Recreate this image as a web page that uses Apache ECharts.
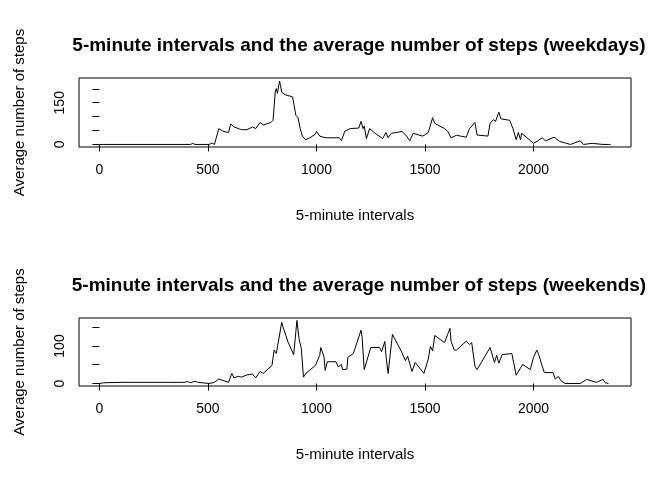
<!DOCTYPE html>
<html><head><meta charset="utf-8">
<script src="https://cdn.jsdelivr.net/npm/echarts@6/dist/echarts.min.js"></script>
<style>body{margin:0;background:#fff}#c{width:672px;height:480px}</style></head>
<body><div id="c"></div>
<script>
const wdX=[0,420,430,440,505,520,530,550,570,595, 605,620,640,655,680,705,720,740,755,790, 800,810,815,820,830,840,855,890,895,905, 915,925,935,940,950,970,995,1000,1015,1040, 1105,1115,1130,1155,1195,1205,1215,1220,1230,1245, 1270,1305,1320,1330,1345,1370,1395,1415,1430,1445, 1490,1515,1535,1545,1590,1605,1620,1645,1690,1705, 1720,1730,1740,1790,1800,1815,1825,1840,1850,1890, 1905,1920,1930,1940,1945,1970,2000,2020,2040,2055, 2095,2120,2170,2215,2230,2270,2320,2345,2355];
const wdY=[0,0,4,0,0,5,0,57,47,43, 74,63,57,53,53,63,57,79,70,79, 87,188,201,184,228,188,179,171,149,105, 96,57,30,37,17,24,37,47,30,24, 24,13,47,57,59,83,57,66,21,57, 40,21,43,24,40,43,47,30,13,40, 30,43,96,76,57,47,24,33,26,57, 70,79,34,30,76,89,83,116,92,87, 57,17,43,17,40,24,4,13,24,13, 26,11,0,13,0,4,0,0,0];
const weX=[0,20,105,320,390,405,420,440,455,505, 530,550,570,595,610,620,640,655,680,705, 720,740,755,795,805,815,840,845,870,895, 910,920,930,940,955,995,1015,1020,1035,1040, 1050,1090,1100,1115,1120,1140,1145,1170,1205,1210, 1220,1250,1290,1300,1315,1320,1330,1350,1390,1410, 1420,1440,1455,1495,1515,1525,1535,1545,1590,1615, 1620,1635,1645,1690,1705,1715,1730,1740,1800,1820, 1830,1840,1855,1900,1920,1950,1985,2000,2015,2025, 2040,2050,2090,2100,2115,2125,2145,2215,2245,2290, 2320,2330,2345];
const weY=[0,2,3,3,3,5,2,6,3,0, 3,12,8,3,27,15,19,17,23,25, 15,32,27,48,89,80,163,152,109,77, 168,118,94,17,29,48,75,96,70,35, 58,58,44,51,37,38,70,80,142,125, 37,96,96,85,112,75,27,131,87,61, 73,32,56,27,65,99,87,128,109,147, 113,89,89,113,104,109,46,37,96,56, 75,54,77,80,22,51,37,70,89,75, 46,29,29,12,19,8,0,0,11,3, 11,2,0];
const xTicks=[0,500,1000,1500,2000];
const txt={fontFamily:'Liberation Sans, Arial, sans-serif',color:'#000'};
function pairs(x,y){return x.map((v,i)=>[v,y[i]]);}
const grids=[{left:79,right:41,top:78,height:69},{left:79,right:41,top:318,height:68}];
function xa(i){return {type:'value',gridIndex:i,min:-94,max:2449,offset:6,
 axisLine:{show:false},splitLine:{show:false},
 axisTick:{show:true,length:7,customValues:xTicks,lineStyle:{color:'#000'}},
 axisLabel:{customValues:xTicks,formatter:v=>String(v),fontSize:14,margin:10,...txt},
 name:'5-minute intervals',nameLocation:'middle',nameGap:55,nameTextStyle:{fontSize:15,...txt}};}
function ya(i,min,max,ticks,labels){return {type:'value',gridIndex:i,min:min,max:max,offset:0,
 axisLine:{show:false},splitLine:{show:false},
 axisTick:{show:true,inside:false,length:7,customValues:ticks,lineStyle:{color:'#000'}},
 axisLabel:{customValues:labels,formatter:v=>String(v),rotate:90,fontSize:14,margin:12,...txt},
 name:'Average number of steps',nameLocation:'middle',nameGap:52,nameTextStyle:{fontSize:15,...txt}};}
const chart=echarts.init(document.getElementById('c'),null,{renderer:'canvas'});
chart.setOption({
 animation:false,backgroundColor:'#fff',
 title:[{text:'5-minute intervals and the average number of steps (weekdays)',left:354,textAlign:'center',top:31,textStyle:{fontSize:19,fontWeight:'bold',...txt}},
  {text:'5-minute intervals and the average number of steps (weekends)',left:354,textAlign:'center',top:271,textStyle:{fontSize:19,fontWeight:'bold',...txt}}],
 grid:grids.map(g=>({...g,show:true,borderColor:'#000',borderWidth:1,backgroundColor:'transparent'})),
 xAxis:[xa(0),xa(1)],
 yAxis:[ya(0,-9.2,239,[0,50,100,150,200],[0,150]),ya(1,-6.7,174.7,[0,50,100,150],[0,100])],
 series:[{type:'line',xAxisIndex:0,yAxisIndex:0,data:pairs(wdX,wdY),showSymbol:false,lineStyle:{color:'#000',width:1}},
  {type:'line',xAxisIndex:1,yAxisIndex:1,data:pairs(weX,weY),showSymbol:false,lineStyle:{color:'#000',width:1}}]
});
</script></body></html>
